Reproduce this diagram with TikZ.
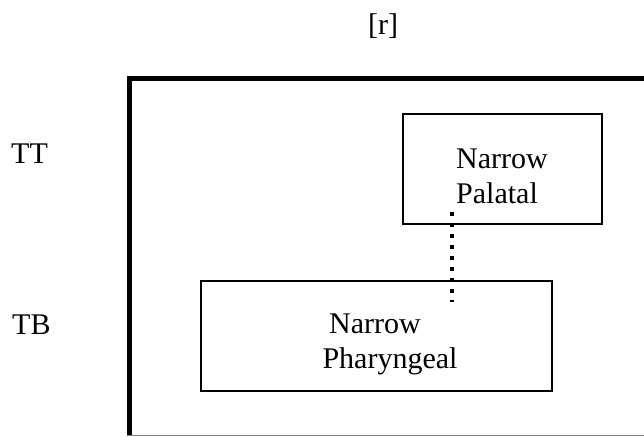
\documentclass[tikz,border=0pt]{standalone}
\usepackage{fontspec}
\setmainfont{Liberation Serif}
\begin{document}
\begin{tikzpicture}[x=1pt,y=-1pt,
  lbl/.style={font=\fontsize{30}{36}\selectfont, inner sep=0pt, anchor=base},
  gbox/.style={draw, line width=2.5pt, inner sep=0pt},
  frame/.style={line width=5pt},
  dots/.style={line width=4pt, dash pattern=on 4pt off 7pt}]
\useasboundingbox (0,0) rectangle (644,436);
\node[lbl] (r) at (383,35) {[r]};
\node[lbl, anchor=base west] (tt) at (11,163) {TT};
\node[lbl, anchor=base west] (tb) at (12,334) {TB};
\draw[frame] (129.5,436) -- (129.5,78.5) -- (644,78.5);
\draw[gray, line width=1pt] (127,435) -- (644,435);
\node[gbox, minimum width=199pt, minimum height=110pt] (pal) at (502.5,169) {};
\node[gbox, minimum width=351pt, minimum height=110pt] (pha) at (376.5,336) {};
\node[lbl] (pal1) at (502,168) {Narrow};
\node[lbl] (pal2) at (497,203) {Palatal};
\node[lbl] (pha1) at (375,333) {Narrow};
\node[lbl] (pha2) at (390,368) {Pharyngeal};
\coordinate (d1) at (452,212);
\coordinate (d2) at (452,302);
\draw[dots] (d1) -- (d2);
\end{tikzpicture}
\end{document}
